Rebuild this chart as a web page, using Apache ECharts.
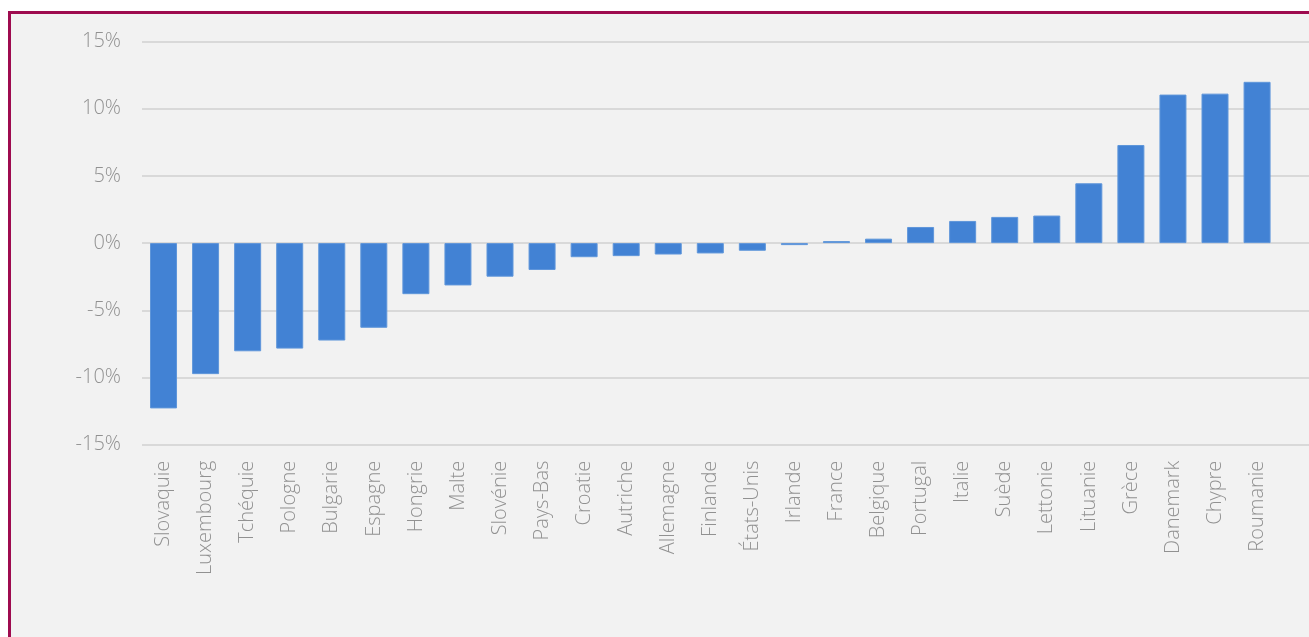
<!DOCTYPE html>
<html>
<head>
<meta charset="utf-8">
<script src="https://cdn.jsdelivr.net/npm/echarts@6/dist/echarts.min.js"></script>
<style>
  html, body { margin: 0; padding: 0; background: #ffffff; width: 1309px; height: 637px; overflow: hidden; }
  #frame { position: absolute; left: 8px; top: 11px; width: 1400px; height: 700px;
           border-left: 3px solid #9e0b4f; border-top: 3px solid #9e0b4f; background: #f2f2f2; }
  #chart { position: absolute; left: 0; top: 0; width: 1309px; height: 637px; }
</style>
</head>
<body>
<div id="frame"></div>
<div id="chart"></div>
<script>
const categories = ['Slovaquie','Luxembourg','Tchéquie','Pologne','Bulgarie','Espagne','Hongrie','Malte','Slovénie','Pays-Bas','Croatie','Autriche','Allemagne','Finlande','États-Unis','Irlande','France','Belgique','Portugal','Italie','Suède','Lettonie','Lituanie','Grèce','Danemark','Chypre','Roumanie'];
const values = [-12.3,-9.75,-8.05,-7.85,-7.25,-6.3,-3.8,-3.15,-2.5,-2.0,-1.05,-0.97,-0.85,-0.77,-0.57,-0.15,0.15,0.33,1.2,1.65,1.95,2.05,4.45,7.3,11.05,11.12,12.0];
const yMin = -15, yMax = 15, yStep = 5;

const labelFont = { fontFamily: '"Open Sans", sans-serif', fontSize: 20, fontWeight: 300, color: '#919191' };
const chart = echarts.init(document.getElementById('chart'), null, { renderer: 'canvas' });
chart.setOption({
  backgroundColor: 'transparent',
  animation: false,
  grid: [
    { left: 142, right: 0, top: 41.5, height: 403.2 },
    { left: 142.5, width: 1135.6, top: 41.5, height: 403.2 }
  ],
  xAxis: [
    { gridIndex: 0, type: 'category', data: categories, show: false },
    { gridIndex: 1, type: 'category', data: categories,
      axisLine: { show: false }, axisTick: { show: false },
      axisLabel: Object.assign({ rotate: 90, margin: 16, interval: 0 }, labelFont) }
  ],
  yAxis: [
    { gridIndex: 0, type: 'value', min: yMin, max: yMax, interval: yStep,
      axisLine: { show: false }, axisTick: { show: false },
      axisLabel: Object.assign({ margin: 21, formatter: v => v + '%' }, labelFont),
      splitLine: { lineStyle: { color: '#d9d9d9', width: 2 } } },
    { gridIndex: 1, type: 'value', min: yMin, max: yMax, interval: yStep, show: false,
      splitLine: { show: false } }
  ],
  series: [{
    type: 'bar', xAxisIndex: 1, yAxisIndex: 1, data: values, barWidth: 27,
    itemStyle: { color: '#4282d4', borderColor: '#5f96da', borderWidth: 1 }
  }]
});
</script>
</body>
</html>
